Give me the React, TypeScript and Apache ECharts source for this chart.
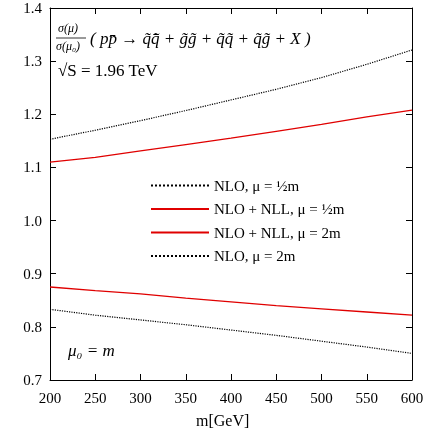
import React, { useEffect, useRef } from "react";
import * as echarts from "echarts";

const masses = [200, 250, 300, 350, 400, 450, 500, 550, 600];
const nloHalf = [1.153, 1.170, 1.188, 1.207, 1.227, 1.247, 1.269, 1.294, 1.321];
const nllHalf = [1.110, 1.119, 1.131, 1.143, 1.155, 1.168, 1.181, 1.195, 1.208];
const nllTwo = [0.875, 0.868, 0.862, 0.854, 0.847, 0.840, 0.834, 0.828, 0.822];
const nloTwo = [0.833, 0.822, 0.813, 0.804, 0.794, 0.784, 0.773, 0.762, 0.750];

const FONT = "Liberation Serif";

const App = () => {
    const chartRef = useRef<HTMLDivElement>(null);

    useEffect(() => {
        const chart = echarts.init(chartRef.current, null, { renderer: "svg" });
        const mkAxis = (show: boolean) => ({
            axisLine: { lineStyle: { color: "#000", width: 1 } },
            axisTick: { inside: true, length: 6, lineStyle: { color: "#000" } },
            splitLine: { show: false },
            axisLabel: { show, color: "#000", fontFamily: FONT, fontSize: 15 },
        });
        const line = (name: string, data: number[], color: string, type: string) => ({
            name,
            type: "line",
            data: masses.map((m, i) => [m, data[i]]),
            symbol: "none",
            lineStyle: { color, width: type === "solid" ? 1.3 : 1.2, type },
            itemStyle: { color },
        });
        chart.setOption({
            animation: false,
            textStyle: { fontFamily: FONT },
            grid: { left: 50, right: 15, top: 8, bottom: 57 },
            xAxis: [
                { type: "value", min: 200, max: 600, interval: 50, ...mkAxis(true), axisLabel: { color: "#000", fontFamily: FONT, fontSize: 15, margin: 10 } },
                { type: "value", position: "top", min: 200, max: 600, interval: 50, ...mkAxis(false) },
            ],
            yAxis: [
                { type: "value", min: 0.7, max: 1.4, interval: 0.1, ...mkAxis(true), axisLabel: { color: "#000", fontFamily: FONT, fontSize: 15, formatter: (v: number) => v.toFixed(1) } },
                { type: "value", position: "right", min: 0.7, max: 1.4, interval: 0.1, ...mkAxis(false) },
            ],
            legend: {
                orient: "vertical",
                left: 145,
                top: 173,
                itemWidth: 58,
                itemHeight: 10,
                itemGap: 8.5,
                itemStyle: { opacity: 0 },
                textStyle: { fontFamily: FONT, fontSize: 15, color: "#000" },
                data: ["NLO, μ = ½m", "NLO + NLL, μ = ½m", "NLO + NLL, μ = 2m", "NLO, μ = 2m"],
            },
            series: [
                line("NLO, μ = ½m", nloHalf, "#000", "dotted"),
                line("NLO + NLL, μ = ½m", nllHalf, "#e00000", "solid"),
                line("NLO + NLL, μ = 2m", nllTwo, "#e00000", "solid"),
                line("NLO, μ = 2m", nloTwo, "#000", "dotted"),
            ],
            graphic: [
                { type: "text", left: 58, top: 22, style: { text: "σ(μ)", font: `italic 12px ${FONT}`, fill: "#000" } },
                { type: "line", shape: { x1: 56, y1: 38, x2: 86, y2: 38 }, style: { stroke: "#000", lineWidth: 0.8 } },
                { type: "text", left: 56, top: 40, style: { text: "σ(μ₀)", font: `italic 12px ${FONT}`, fill: "#000" } },
                { type: "text", left: 90, top: 30, style: { text: "( pp̄ → q̃q̃̄ + g̃g̃ + q̃q̃ + q̃g̃ + X )", font: `italic 17px ${FONT}`, fill: "#000" } },
                { type: "text", left: 58, top: 62, style: { text: "√S = 1.96 TeV", font: `17px ${FONT}`, fill: "#000" } },
                { type: "text", left: 68, top: 342, style: { text: "μ₀ = m", font: `italic 17px ${FONT}`, fill: "#000" } },
                { type: "text", left: 196, top: 412, style: { text: "m[GeV]", font: `16px ${FONT}`, fill: "#000" } },
            ],
        });
        return () => chart.dispose();
    }, []);

    return <div ref={chartRef} style={{ position: "fixed", left: 0, top: 0, width: 427, height: 437 }} />;
};

export default App;
